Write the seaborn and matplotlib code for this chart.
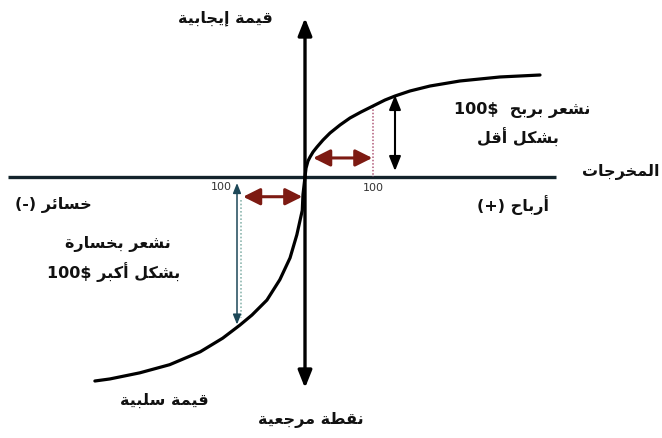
import numpy as np
import pandas as pd
import matplotlib
matplotlib.use("Agg")
import matplotlib.pyplot as plt
import seaborn as sns

# ---------------- data (outcome in $, subjective value) ----------------
gains = [0, 1.5, 4.4, 7.4, 11.8, 17.6, 26.5, 36.8, 51.5, 66.2, 82.4, 100,
         117.6, 132.4, 154.4, 183.8, 227.9, 286.8, 345.6]
gain_values = [0, 13, 23.5, 29.4, 36.8, 44.1, 54.4, 64.7, 76.5, 86.8, 95.6,
               104.4, 113.2, 119.1, 126.5, 133.8, 141.2, 147.1, 150]
losses = [0, -3, -4, -12, -22, -37, -56, -78, -96, -121, -154, -199, -243, -287, -309]
loss_values = [0, -26, -49, -85, -119, -151, -181, -203, -218, -237, -257, -276, -288, -297, -300]
reference_amount = 100
tick_labels = ["100", "100"]

label_pos_value = "قيمة إيجابية"
label_neg_value = "قيمة سلبية"
label_reference = "نقطة مرجعية"
label_outcomes = "المخرجات"
label_losses = "خسائر"
label_gains = "أرباح"
label_gain_line1 = "نشعر بربح"
label_gain_line2 = "بشكل أقل"
label_loss_line1 = "نشعر بخسارة"
label_loss_line2 = "بشكل أكبر"

# ---------------- minimal Arabic shaping (presentation forms) ----------------
FORMS = {
    'ا': (0xFE8D, 0xFE8E, None, None), 'أ': (0xFE83, 0xFE84, None, None),
    'إ': (0xFE87, 0xFE88, None, None), 'آ': (0xFE81, 0xFE82, None, None),
    'ة': (0xFE93, 0xFE94, None, None), 'ر': (0xFEAD, 0xFEAE, None, None),
    'ز': (0xFEAF, 0xFEB0, None, None), 'د': (0xFEA9, 0xFEAA, None, None),
    'ذ': (0xFEAB, 0xFEAC, None, None), 'و': (0xFEED, 0xFEEE, None, None),
    'ى': (0xFEEF, 0xFEF0, None, None),
    'ب': (0xFE8F, 0xFE90, 0xFE91, 0xFE92), 'ت': (0xFE95, 0xFE96, 0xFE97, 0xFE98),
    'ث': (0xFE99, 0xFE9A, 0xFE9B, 0xFE9C), 'ج': (0xFE9D, 0xFE9E, 0xFE9F, 0xFEA0),
    'ح': (0xFEA1, 0xFEA2, 0xFEA3, 0xFEA4), 'خ': (0xFEA5, 0xFEA6, 0xFEA7, 0xFEA8),
    'س': (0xFEB1, 0xFEB2, 0xFEB3, 0xFEB4), 'ش': (0xFEB5, 0xFEB6, 0xFEB7, 0xFEB8),
    'ص': (0xFEB9, 0xFEBA, 0xFEBB, 0xFEBC), 'ض': (0xFEBD, 0xFEBE, 0xFEBF, 0xFEC0),
    'ط': (0xFEC1, 0xFEC2, 0xFEC3, 0xFEC4), 'ظ': (0xFEC5, 0xFEC6, 0xFEC7, 0xFEC8),
    'ع': (0xFEC9, 0xFECA, 0xFECB, 0xFECC), 'غ': (0xFECD, 0xFECE, 0xFECF, 0xFED0),
    'ف': (0xFED1, 0xFED2, 0xFED3, 0xFED4), 'ق': (0xFED5, 0xFED6, 0xFED7, 0xFED8),
    'ك': (0xFED9, 0xFEDA, 0xFEDB, 0xFEDC), 'ل': (0xFEDD, 0xFEDE, 0xFEDF, 0xFEE0),
    'م': (0xFEE1, 0xFEE2, 0xFEE3, 0xFEE4), 'ن': (0xFEE5, 0xFEE6, 0xFEE7, 0xFEE8),
    'ه': (0xFEE9, 0xFEEA, 0xFEEB, 0xFEEC), 'ي': (0xFEF1, 0xFEF2, 0xFEF3, 0xFEF4),
    'ئ': (0xFE89, 0xFE8A, 0xFE8B, 0xFE8C),
}


def ar(text):
    out = []
    n = len(text)
    for i, ch in enumerate(text):
        if ch not in FORMS:
            out.append(ch)
            continue
        prev = text[i - 1] if i > 0 else None
        nxt = text[i + 1] if i < n - 1 else None
        join_prev = prev in FORMS and FORMS[prev][2] is not None
        join_next = nxt in FORMS and FORMS[ch][2] is not None
        iso, fin, ini, med = FORMS[ch]
        if join_prev and join_next:
            code = med
        elif join_prev:
            code = fin
        elif join_next:
            code = ini
        else:
            code = iso
        out.append(chr(code))
    return "".join(out[::-1])


# ---------------- figure ----------------
sns.set_theme(style="white")
plt.rcParams["font.family"] = ["DejaVu Sans"]

W, H = 662, 438
fig = plt.figure(figsize=(W / 100, H / 100), dpi=100)
ax = fig.add_axes([0, 0, 1, 1])
S = 0.68          # pixels per data unit
OX, OY = 305, 177  # pixel position of the origin


def px(x, y):
    return ((x - OX) / S, (OY - y) / S)


x0, y1 = px(0, 0)
x1, y0 = px(W, H)
ax.set_xlim(x0, x1)
ax.set_ylim(y0, y1)
ax.axis("off")

axis_col = "#13242c"
# horizontal axis
ax.plot([px(8, 0)[0], px(556, 0)[0]], [0, 0], color=axis_col, lw=2.4,
        solid_capstyle="butt", zorder=2)
# vertical axis with arrowheads
ax.annotate("", xy=(0, px(0, 18)[1]), xytext=(0, px(0, 388)[1]),
            arrowprops=dict(arrowstyle="<|-|>,head_length=0.55,head_width=0.22",
                            mutation_scale=19, lw=2.4, color="black",
                            shrinkA=0, shrinkB=0), zorder=3)

# value curve
df = pd.DataFrame({
    "outcome": losses[::-1][:-1] + gains,
    "value": loss_values[::-1][:-1] + gain_values,
})
sns.lineplot(data=df, x="outcome", y="value", sort=False, color="black",
             lw=2.3, ax=ax, zorder=4)
ax.set_xlabel("")
ax.set_ylabel("")

red = "#7d1a12"
v_gain = float(np.interp(reference_amount, gains, gain_values))
v_loss = float(np.interp(-reference_amount, losses[::-1], loss_values[::-1]))

# gain side: dotted drop line at +100
ax.plot([reference_amount, reference_amount], [v_gain, 0], color="#b05878",
        lw=1.1, ls=(0, (1, 1.2)), zorder=3)
# red horizontal double arrow (gain)
ax.annotate("", xy=(reference_amount - 1, 28), xytext=(12, 28),
            arrowprops=dict(arrowstyle="<|-|>,head_length=0.6,head_width=0.3",
                            mutation_scale=17, lw=2.2, color=red,
                            shrinkA=0, shrinkB=0), zorder=5)
# black vertical double arrow (gain)
vx = px(395, 0)[0]
ax.annotate("", xy=(vx, px(0, 95)[1]), xytext=(vx, px(0, 171)[1]),
            arrowprops=dict(arrowstyle="<|-|>,head_length=0.55,head_width=0.22",
                            mutation_scale=16, lw=1.5, color="black",
                            shrinkA=0, shrinkB=0), zorder=5)

# loss side: thin vertical double arrow at -100
ax.annotate("", xy=(-reference_amount, px(0, 183)[1]),
            xytext=(-reference_amount, v_loss + 4),
            arrowprops=dict(arrowstyle="<|-|>,head_length=0.5,head_width=0.2",
                            mutation_scale=12, lw=1.1, color="#1d4858",
                            shrinkA=0, shrinkB=0), zorder=5)
ax.plot([-reference_amount + 6, -reference_amount + 6],
        [px(0, 200)[1], px(0, 318)[1]], color="#8fb8b0",
        lw=1.2, ls=(0, (1, 1.2)), zorder=3)
# red horizontal double arrow (loss)
ax.annotate("", xy=(-4, -29), xytext=(-91, -29),
            arrowprops=dict(arrowstyle="<|-|>,head_length=0.6,head_width=0.3",
                            mutation_scale=17, lw=2.2, color=red,
                            shrinkA=0, shrinkB=0), zorder=5)

# tick labels "100"
ax.text(*px(373, 188), tick_labels[0], ha="center", va="center",
        fontsize=8, color="#333333")
ax.text(*px(221, 187), tick_labels[1], ha="center", va="center",
        fontsize=8, color="#333333")

bold = dict(ha="center", va="center", fontsize=11.5, fontweight="bold",
            color="#111111")
ax.text(*px(225, 18), ar(label_pos_value), **bold)
ax.text(*px(522, 110), "100$  " + ar(label_gain_line1), **bold)
ax.text(*px(518, 137), ar(label_gain_line2), **bold)
ax.text(*px(621, 172), ar(label_outcomes), **bold)
ax.text(*px(53, 205), "(-) " + ar(label_losses), **bold)
ax.text(*px(513, 205), "(+) " + ar(label_gains), **bold)
ax.text(*px(118, 244), ar(label_loss_line1), **bold)
ax.text(*px(114, 272), "100$ " + ar(label_loss_line2), **bold)
ax.text(*px(164, 400), ar(label_neg_value), **bold)
ax.text(*px(311, 420), ar(label_reference), **bold)

fig.savefig("out.png", dpi=100)
